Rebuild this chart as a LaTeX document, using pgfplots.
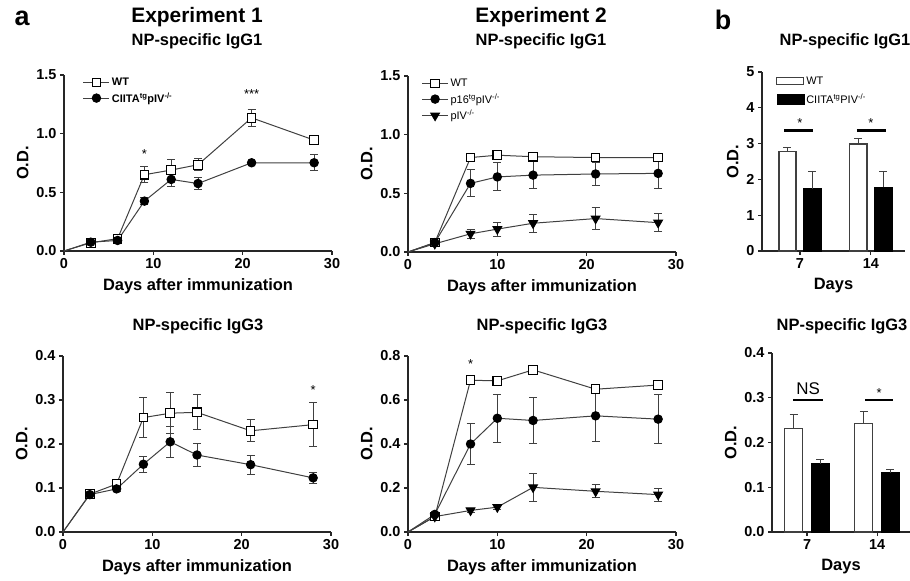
\documentclass[border=0pt]{standalone}
\usepackage{fontspec}
\setmainfont{Liberation Sans}
\usepackage{pgfplots}
\pgfplotsset{compat=1.18}
\definecolor{ln}{gray}{0.25}

\pgfplotsset{
  gpbase/.style={
    scale only axis,
    axis lines=left,
    axis line style={-, line width=1.1bp, black!85},
    tick align=outside,
    major tick length=4bp,
    tick style={line width=1.1bp, black!85},
    /pgf/number format/assume math mode=true,
    tick label style={font=\fontsize{14.5}{14.5}\selectfont\bfseries},
    label style={font=\fontsize{16.5}{16.5}\selectfont\bfseries},
    ylabel={O.D.},
    ylabel shift=1bp,
    xlabel shift=3bp,
    clip=false,
    ymin=0,
    legend cell align=left,
  },
  gp/.style={gpbase,
    xmin=0, xmax=30, xtick={0,10,20,30},
    xlabel={Days after immunization},
    width=268bp, height=176bp,
    legend style={draw=none, fill=none, font=\fontsize{11}{11}\selectfont, row sep=1.5bp, inner sep=0pt, anchor=north west},
    legend image code/.code={\draw[mark repeat=2,mark phase=2,##1] plot coordinates {(0bp,0bp)(13bp,0bp)(26bp,0bp)};},
  },
  gpbar/.style={gpbase,
    xtick={0,1}, xticklabels={7,14}, xlabel={Days},
    legend style={draw=none, fill=none, font=\fontsize{11}{11}\selectfont, row sep=4bp, inner sep=0pt, anchor=north west},
  },
  eb/.style={error bars/y dir=both, error bars/y explicit,
    error bars/error bar style={line width=1bp, ln},
    error bars/error mark options={rotate=90, line width=1bp, ln, mark size=4bp}},
  wt/.style={ln, line width=1bp, mark=square*, mark size=4.3bp, mark options={solid, fill=white, draw=black, line width=1.1bp}, eb},
  ko/.style={ln, line width=1bp, mark=*, mark size=4.2bp, mark options={solid, fill=black, draw=black}, eb},
  tri/.style={ln, line width=1bp, mark=triangle*, mark size=5bp, mark options={solid, fill=black, draw=black, rotate=180}, eb},
  seg/.style={ln, line width=1bp, forget plot},
  barerr/.style={error bars/y dir=plus, error bars/y explicit,
    error bars/error bar style={line width=1.1bp, ln},
    error bars/error mark options={rotate=90, line width=1.1bp, ln, mark size=4bp}},
}

\begin{document}
\begin{tikzpicture}
\useasboundingbox (0,0) rectangle (910bp,581bp);

% panel labels and titles
\node[font=\fontsize{27}{27}\selectfont\bfseries] at (22bp,563bp) {a};
\node[font=\fontsize{27}{27}\selectfont\bfseries] at (723bp,561bp) {b};
\node[font=\fontsize{21}{21}\selectfont\bfseries] at (197bp,564bp) {Experiment 1};
\node[font=\fontsize{21}{21}\selectfont\bfseries] at (541bp,564bp) {Experiment 2};
\begin{scope}[every node/.style={font=\fontsize{16.5}{16.5}\selectfont\bfseries}]
\node at (197bp,540bp) {NP-specific IgG1};
\node at (541bp,540bp) {NP-specific IgG1};
\node at (845bp,540bp) {NP-specific IgG1};
\node at (198bp,255bp) {NP-specific IgG3};
\node at (542bp,255bp) {NP-specific IgG3};
\node at (842bp,255bp) {NP-specific IgG3};
\end{scope}

% ---------- Panel 1: Exp 1 IgG1
\begin{axis}[gp, at={(64bp,330bp)}, anchor=south west,
  ymax=1.5, ytick={0,0.5,1,1.5},
  yticklabel style={/pgf/number format/.cd, fixed, fixed zerofill, precision=1},
  legend style={at={(axis description cs:0.07,0.995)}, font=\fontsize{11}{11}\selectfont\bfseries}]
\addplot[seg] coordinates {(0,0) (3,0.07)};
\addplot[wt] coordinates {(3,0.07) +- (0,0.01) (6,0.105) +- (0,0.01) (9,0.65) +- (0,0.07) (12,0.69) +- (0,0.09) (15,0.735) +- (0,0.05) (21,1.135) +- (0,0.07) (28,0.945) +- (0,0.02)};
\addlegendentry{WT}
\addplot[seg] coordinates {(0,0) (3,0.075)};
\addplot[ko] coordinates {(3,0.075) +- (0,0.01) (6,0.09) +- (0,0.01) (9,0.425) +- (0,0.03) (12,0.61) +- (0,0.06) (15,0.575) +- (0,0.05) (21,0.752) +- (0,0.01) (28,0.752) +- (0,0.07)};
\addlegendentry{CIITA\textsuperscript{tg}pIV\textsuperscript{-/-}}
\node[font=\fontsize{13}{13}\selectfont] at (axis cs:9,0.83) {*};
\node[font=\fontsize{13}{13}\selectfont] at (axis cs:21,1.34) {***};
\end{axis}

% ---------- Panel 2: Exp 2 IgG1
\begin{axis}[gp, at={(408bp,329bp)}, anchor=south west,
  ymax=1.5, ytick={0,0.5,1,1.5},
  yticklabel style={/pgf/number format/.cd, fixed, fixed zerofill, precision=1},
  legend style={at={(axis description cs:0.05,0.995)}}]
\addplot[seg] coordinates {(0,0) (3,0.08)};
\addplot[wt] coordinates {(3,0.08) +- (0,0.01) (7,0.805) +- (0,0.02) (10,0.825) +- (0,0.02) (14,0.812) +- (0,0.02) (21,0.805) +- (0,0.02) (28,0.805) +- (0,0.02)};
\addlegendentry{WT}
\addplot[seg] coordinates {(0,0) (3,0.08)};
\addplot[ko] coordinates {(3,0.08) +- (0,0.01) (7,0.585) +- (0,0.115) (10,0.64) +- (0,0.12) (14,0.655) +- (0,0.115) (21,0.665) +- (0,0.1) (28,0.67) +- (0,0.13)};
\addlegendentry{p16\textsuperscript{tg}pIV\textsuperscript{-/-}}
\addplot[seg] coordinates {(0,0) (3,0.07)};
\addplot[tri] coordinates {(3,0.07) +- (0,0.01) (7,0.155) +- (0,0.04) (10,0.195) +- (0,0.06) (14,0.245) +- (0,0.075) (21,0.285) +- (0,0.09) (28,0.25) +- (0,0.075)};
\addlegendentry{pIV\textsuperscript{-/-}}
\end{axis}

% ---------- Panel 3: bars IgG1
\begin{axis}[gpbar, at={(762bp,330bp)}, anchor=south west,
  width=143bp, height=179bp,
  xmin=-0.535, xmax=1.48, ymax=5, ytick={0,1,2,3,4,5},
  legend style={at={(axis description cs:0.098,0.985)}}]
\addplot[ybar, bar width=0.24, bar shift=0pt, fill=white, draw=ln, line width=1.1bp, barerr, forget plot]
  coordinates {(-0.176,2.77) +- (0,0.11) (0.824,2.99) +- (0,0.14)};
\addplot[ybar, bar width=0.24, bar shift=0pt, fill=black, draw=black, line width=1.1bp, barerr, forget plot]
  coordinates {(0.176,1.74) +- (0,0.48) (1.176,1.78) +- (0,0.45)};
\addlegendimage{legend image code/.code={\draw[fill=white,draw=ln,line width=1.1bp] (0bp,-3.5bp) rectangle (27bp,3.5bp);}}
\addlegendentry{WT}
\addlegendimage{legend image code/.code={\draw[fill=black,draw=black] (0bp,-5bp) rectangle (27bp,5bp);}}
\addlegendentry{CIITA\textsuperscript{tg}PIV\textsuperscript{-/-}}
\draw[line width=2.6bp] (axis cs:-0.22,3.37) -- (axis cs:0.19,3.37);
\draw[line width=2.6bp] (axis cs:0.80,3.37) -- (axis cs:1.21,3.37);
\node[font=\fontsize{13}{13}\selectfont] at (axis cs:0,3.58) {*};
\node[font=\fontsize{13}{13}\selectfont] at (axis cs:1,3.58) {*};
\end{axis}

% ---------- Panel 4: Exp 1 IgG3
\begin{axis}[gp, at={(63bp,49bp)}, anchor=south west,
  ymax=0.4, ytick={0,0.1,0.2,0.3,0.4},
  yticklabel style={/pgf/number format/.cd, fixed, fixed zerofill, precision=1}]
\addplot[seg] coordinates {(0,0) (3,0.086)};
\addplot[wt] coordinates {(3,0.086) +- (0,0.005) (6,0.109) +- (0,0.005) (9,0.26) +- (0,0.045) (12,0.27) +- (0,0.047) (15,0.272) +- (0,0.04) (21,0.23) +- (0,0.025) (28,0.244) +- (0,0.05)};
\addplot[seg] coordinates {(0,0) (3,0.085)};
\addplot[ko] coordinates {(3,0.085) +- (0,0.005) (6,0.098) +- (0,0.005) (9,0.154) +- (0,0.018) (12,0.205) +- (0,0.035) (15,0.175) +- (0,0.027) (21,0.153) +- (0,0.022) (28,0.123) +- (0,0.013)};
\node[font=\fontsize{13}{13}\selectfont] at (axis cs:28,0.323) {*};
\end{axis}

% ---------- Panel 5: Exp 2 IgG3
\begin{axis}[gp, at={(408bp,49bp)}, anchor=south west,
  ymax=0.8, ytick={0,0.2,0.4,0.6,0.8},
  yticklabel style={/pgf/number format/.cd, fixed, fixed zerofill, precision=1}]
\addplot[seg] coordinates {(0,0) (3,0.07)};
\addplot[wt] coordinates {(3,0.07) +- (0,0.01) (7,0.69) +- (0,0.01) (10,0.687) +- (0,0.01) (14,0.737) +- (0,0.01) (21,0.649) +- (0,0.01) (28,0.668) +- (0,0.01)};
\addplot[seg] coordinates {(0,0) (3,0.08)};
\addplot[ko] coordinates {(3,0.08) +- (0,0.01) (7,0.40) +- (0,0.095) (10,0.517) +- (0,0.11) (14,0.507) +- (0,0.105) (21,0.528) +- (0,0.117) (28,0.513) +- (0,0.11)};
\addplot[seg] coordinates {(0,0) (3,0.07)};
\addplot[tri] coordinates {(3,0.07) +- (0,0.01) (7,0.098) +- (0,0.01) (10,0.113) +- (0,0.01) (14,0.203) +- (0,0.065) (21,0.185) +- (0,0.03) (28,0.17) +- (0,0.03)};
\node[font=\fontsize{13}{13}\selectfont] at (axis cs:7,0.765) {*};
\end{axis}

% ---------- Panel 6: bars IgG3
\begin{axis}[gpbar, at={(772bp,49bp)}, anchor=south west,
  width=138bp, height=179bp,
  xmin=-0.5, xmax=1.47, ymax=0.4, ytick={0,0.1,0.2,0.3,0.4},
  yticklabel style={/pgf/number format/.cd, fixed, fixed zerofill, precision=1}]
\addplot[ybar, bar width=0.257, bar shift=0pt, fill=white, draw=ln, line width=1.1bp, barerr]
  coordinates {(-0.19,0.231) +- (0,0.031) (0.81,0.242) +- (0,0.027)};
\addplot[ybar, bar width=0.257, bar shift=0pt, fill=black, draw=black, line width=1.1bp, barerr]
  coordinates {(0.186,0.152) +- (0,0.01) (1.19,0.132) +- (0,0.008)};
\draw[line width=2.6bp] (axis cs:-0.20,0.295) -- (axis cs:0.23,0.295);
\draw[line width=2.6bp] (axis cs:0.83,0.295) -- (axis cs:1.23,0.295);
\node[font=\fontsize{17}{17}\selectfont] at (axis cs:0.015,0.320) {NS};
\node[font=\fontsize{13}{13}\selectfont] at (axis cs:1.03,0.310) {*};
\end{axis}
\end{tikzpicture}
\end{document}
